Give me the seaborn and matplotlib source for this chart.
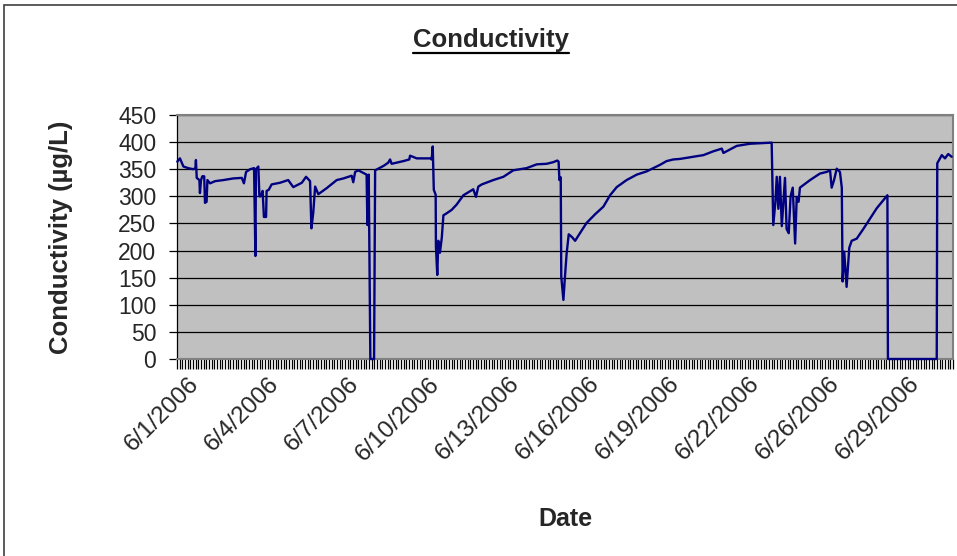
import numpy as np
import pandas as pd
import seaborn as sns
import matplotlib.pyplot as plt
from matplotlib.lines import Line2D
from matplotlib.patches import Rectangle
from matplotlib.ticker import MultipleLocator

# position along the category axis (in day-like units) and conductivity readings
pos = [0.01, 0.11, 0.24, 0.42, 0.61, 0.69, 0.71, 0.74, 0.84, 0.86, 0.90, 0.95,
       1.02, 1.05, 1.11, 1.14, 1.24, 1.43, 1.74, 2.11, 2.43, 2.51, 2.59, 2.74,
       2.89, 2.94, 2.96, 3.05, 3.09, 3.14, 3.21, 3.26, 3.34, 3.36, 3.44, 3.55,
       3.86, 4.17, 4.36, 4.68, 4.84, 4.99, 5.04, 5.11, 5.18, 5.30, 5.61, 5.99,
       6.24, 6.55, 6.61, 6.68, 6.80, 6.99, 7.11, 7.14, 7.19, 7.25, 7.39, 7.43,
       7.74, 7.92, 7.99, 8.05, 8.49, 8.71, 8.74, 8.99, 9.49,
       9.55, 9.59, 9.63, 9.70, 9.71, 9.76, 9.80, 9.86, 9.93, 9.99, 10.09, 10.30,
       10.49, 10.74, 11.11, 11.21, 11.30, 11.43, 11.86, 12.24, 12.61, 13.11,
       13.49, 13.86, 14.11, 14.26, 14.31, 14.34, 14.39, 14.41, 14.49, 14.54,
       14.61, 14.69, 14.81, 14.93, 15.11, 15.36, 15.68, 15.99, 16.24, 16.49,
       16.86, 17.24, 17.61, 17.86, 18.11, 18.36, 18.61, 18.86,
       19.24, 19.74, 20.11, 20.43, 20.49, 20.99, 21.49, 21.86, 22.30, 22.36,
       22.44, 22.49, 22.55, 22.61, 22.68, 22.74, 22.80, 22.86, 22.94, 23.01,
       23.09, 23.18, 23.24, 23.31, 23.36, 23.74, 24.11, 24.36, 24.49, 24.55,
       24.64, 24.74, 24.86, 24.93, 24.96, 25.02, 25.11, 25.21, 25.30, 25.49,
       25.74, 25.99, 26.24, 26.49, 26.64, 26.66, 28.49, 28.51, 28.59, 28.68,
       28.80, 28.92, 29.05]
conductivity = [364, 370, 355, 352, 350, 352, 367, 334, 330, 306, 330, 337,
                337, 288, 290, 330, 324, 328, 330, 333, 334, 324, 345, 350,
                352, 190, 350, 355, 300, 300, 310, 262, 262, 310, 312, 322,
                325, 330, 317, 325, 336, 328, 241, 270, 318, 304, 315, 330,
                333, 338, 326, 345, 348, 343, 340, 247, 340, 0, 0, 348,
                356, 362, 368, 360, 365, 368, 375, 370, 370,
                368, 392, 312, 303, 207, 155, 218, 196, 224, 265, 268, 275,
                285, 302, 313, 299, 318, 322, 330, 336, 348, 352,
                359, 360, 363, 366, 364, 330, 335, 152, 109, 146,
                194, 230, 225, 218, 232, 251, 267, 281, 302, 317,
                330, 340, 346, 352, 358, 365, 368, 369,
                372, 376, 383, 388, 380, 393, 397, 398, 399, 247,
                290, 336, 277, 336, 245, 290, 334, 240, 232, 300,
                316, 213, 299, 290, 316, 330, 342, 345, 348, 316,
                330, 351, 345, 316, 143, 198, 133, 205, 218, 222,
                240, 259, 278, 293, 302, 0, 0, 361, 368, 376,
                370, 378, 373]

date_labels = ['6/1/2006', '6/4/2006', '6/7/2006', '6/10/2006', '6/13/2006',
               '6/16/2006', '6/19/2006', '6/22/2006', '6/26/2006', '6/29/2006']
y_ticks = [0, 50, 100, 150, 200, 250, 300, 350, 400, 450]

df = pd.DataFrame({'pos': pos, 'Conductivity': conductivity})

sns.set_style('white')
plt.rcParams['font.family'] = ['Liberation Sans', 'DejaVu Sans']

fig = plt.figure(figsize=(9.57, 5.56), dpi=100)
ax = fig.add_axes([177 / 957, 1 - 359 / 556, 776 / 957, 244 / 556])
ax.set_facecolor('#c0c0c0')

sns.lineplot(data=df, x='pos', y='Conductivity', sort=False, estimator=None,
             color='#000080', linewidth=1.7, ax=ax)
for line in ax.lines:
    line.set_clip_on(False)
    line.set_zorder(5)

ax.set_xlim(0, 29.1)
ax.set_ylim(0, 450)
ax.set_yticks(y_ticks)
ax.yaxis.grid(True, color='black', linewidth=0.9)
ax.set_axisbelow(True)

# category labels every third day, dense category ticks below the axis
ax.set_xticks([1.0 + 3 * i for i in range(len(date_labels))])
ax.set_xticklabels(date_labels, rotation=45, ha='right', fontsize=17.5)
ax.xaxis.set_minor_locator(MultipleLocator(0.1))
ax.tick_params(axis='x', which='both', direction='out', length=7, width=0.9,
               color='black', bottom=True, pad=3)
ax.tick_params(axis='y', direction='out', length=6, width=0.9, color='black',
               left=True, labelsize=16.5, pad=9)

for s in ['top', 'right', 'bottom']:
    ax.spines[s].set_color('#808080')
    ax.spines[s].set_linewidth(1.5)
ax.spines['left'].set_color('black')
ax.spines['left'].set_linewidth(0.9)

ax.set_xlabel('Date', fontsize=18, fontweight='bold', labelpad=30)
ax.set_ylabel('Conductivity (µg/L)', fontsize=18.5, fontweight='bold', labelpad=32)

title = fig.text(491 / 957, 1 - 40 / 556, 'Conductivity', ha='center', va='center',
                 fontsize=18.5, fontweight='bold')
fig.canvas.draw()
bb = title.get_window_extent().transformed(fig.transFigure.inverted())
fig.add_artist(Line2D([bb.x0, bb.x1], [1 - 53 / 556] * 2, color='black',
                      linewidth=1.6, transform=fig.transFigure))

# outer chart-area border
fig.add_artist(Rectangle((4 / 957, -0.01), 1.0, 1 - 5 / 556 + 0.01,
                         transform=fig.transFigure, fill=False,
                         edgecolor='#404040', linewidth=1.2))

fig.savefig('out.png', dpi=100)
